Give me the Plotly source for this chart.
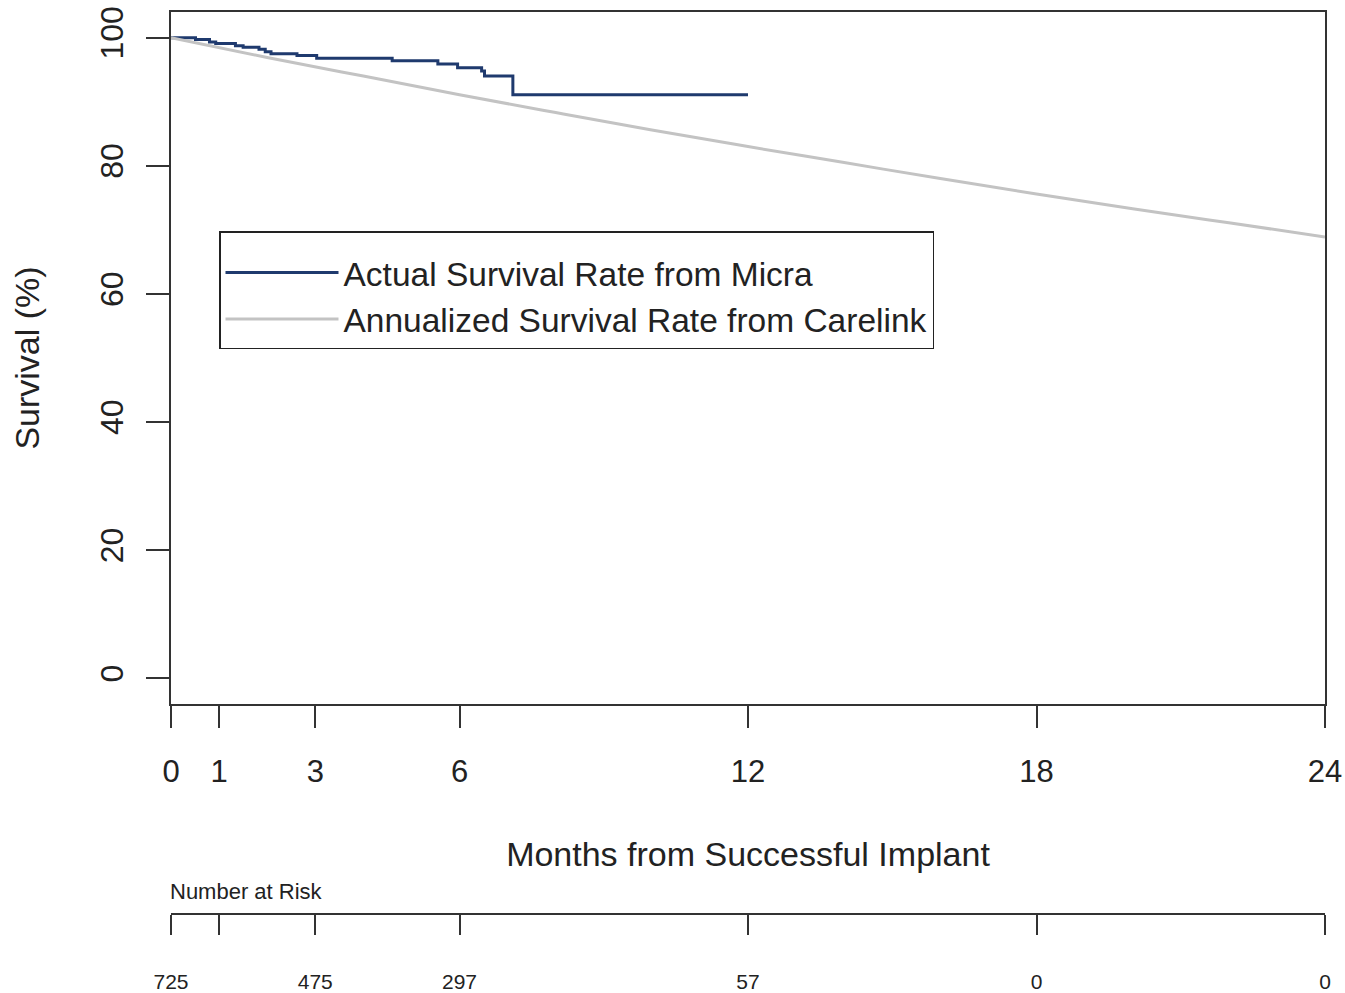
import plotly.graph_objects as go

# Kaplan-Meier style step curve (Micra)
micra_months = [0, 0.51, 0.80, 0.93, 1.34, 1.50, 1.83, 1.96, 2.08, 2.62, 3.03,
                4.60, 5.55, 5.96, 6.46, 6.52, 7.11, 12.0]
micra_surv = [100, 99.7, 99.3, 99.1, 98.75, 98.5, 98.2, 97.8, 97.5, 97.2, 96.8,
              96.4, 95.9, 95.3, 94.8, 94.0, 91.1, 91.1]

# Annualized survival (Carelink)
carelink_months = [0, 2, 4, 6, 8, 10, 12, 14, 16, 18, 20, 22, 24]
carelink_surv = [100, 96.9, 94.0, 91.1, 88.3, 85.6, 83.0, 80.5, 78.0, 75.6, 73.3, 71.1, 68.9]

# Axis ticks
x_ticks = [0, 1, 3, 6, 12, 18, 24]
y_ticks = [0, 20, 40, 60, 80, 100]

# Number at risk
risk_months = [0, 1, 3, 6, 12, 18, 24]
risk_labels = ["725", "", "475", "297", "57", "0", "0"]

NAVY = "#1F3A6E"
GRAY = "#C3C3C3"
AX = "#333333"
TXT = "#222222"
FONT = "Liberation Sans, Arial, sans-serif"

fig = go.Figure()
fig.add_trace(go.Scatter(
    x=micra_months, y=micra_surv, mode="lines", line_shape="hv",
    line=dict(color=NAVY, width=3), name="Actual Survival Rate from Micra",
    xaxis="x", yaxis="y"))
fig.add_trace(go.Scatter(
    x=carelink_months, y=carelink_surv, mode="lines", line_shape="spline",
    line=dict(color=GRAY, width=3), name="Annualized Survival Rate from Carelink",
    xaxis="x", yaxis="y"))
# invisible anchor trace for the number-at-risk axis
fig.add_trace(go.Scatter(
    x=risk_months, y=[0] * len(risk_months), mode="markers",
    marker=dict(opacity=0), showlegend=False, hoverinfo="skip",
    xaxis="x2", yaxis="y2"))

W, H = 1345, 993
L, R, T, B = 171, 20, 12, 80
plot_w = W - L - R
plot_h = H - T - B
main_bottom = (913 - 704) / plot_h

fig.update_layout(
    width=W, height=H,
    margin=dict(l=L, r=R, t=T, b=B, autoexpand=False),
    paper_bgcolor="white", plot_bgcolor="white",
    font=dict(family=FONT, color=TXT),
    showlegend=True,
    legend=dict(
        x=(219 - L) / plot_w, y=1 - (231 - T) / plot_h,
        xanchor="left", yanchor="top",
        bordercolor=TXT, borderwidth=1.5, bgcolor="white",
        font=dict(size=33.5, family=FONT, color=TXT),
        title=dict(text=" ", font=dict(size=9, family=FONT)),
        itemwidth=113, tracegroupgap=0,
    ),
    xaxis=dict(
        domain=[0, 1], anchor="y", range=[0, 24], automargin=False,
        tickmode="array", tickvals=x_ticks, ticktext=[str(v) for v in x_ticks],
        ticks="outside", ticklen=22, tickwidth=2, tickcolor=AX,
        showline=True, linecolor=AX, linewidth=2, mirror=True,
        showgrid=False, zeroline=False,
        tickfont=dict(size=31, family=FONT, color=TXT),
        ticklabelstandoff=17,
        title=dict(text="Months from Successful Implant",
                   font=dict(size=34, family=FONT, color=TXT),
                   standoff=54),
    ),
    yaxis=dict(
        domain=[main_bottom, 1], anchor="x", range=[-4, 104], automargin=False,
        tickmode="array", tickvals=y_ticks, ticktext=[str(v) for v in y_ticks],
        ticks="outside", ticklen=23, tickwidth=2, tickcolor=AX,
        tickangle=-90,
        showline=True, linecolor=AX, linewidth=2, mirror=True,
        showgrid=False, zeroline=False,
        tickfont=dict(size=32, family=FONT, color=TXT),
        ticklabelstandoff=10,
        title=dict(text="Survival (%)",
                   font=dict(size=34, family=FONT, color=TXT),
                   standoff=44),
    ),
    xaxis2=dict(
        domain=[0, 1], anchor="y2", range=[0, 24], automargin=False,
        tickmode="array", tickvals=risk_months, ticktext=risk_labels,
        ticks="outside", ticklen=20, tickwidth=2, tickcolor=AX,
        showline=True, linecolor=AX, linewidth=2,
        showgrid=False, zeroline=False,
        tickfont=dict(size=21, family=FONT, color=TXT),
        ticklabelstandoff=29,
    ),
    yaxis2=dict(domain=[0, 0.001], anchor="x2", visible=False, range=[0, 1]),
    annotations=[dict(
        text="Number at Risk", xref="paper", yref="paper",
        x=-3 / plot_w, y=(913 - 891) / plot_h, xanchor="left", yanchor="middle",
        showarrow=False, font=dict(size=22, family=FONT, color=TXT),
    )],
)

fig.write_html("out.html")
